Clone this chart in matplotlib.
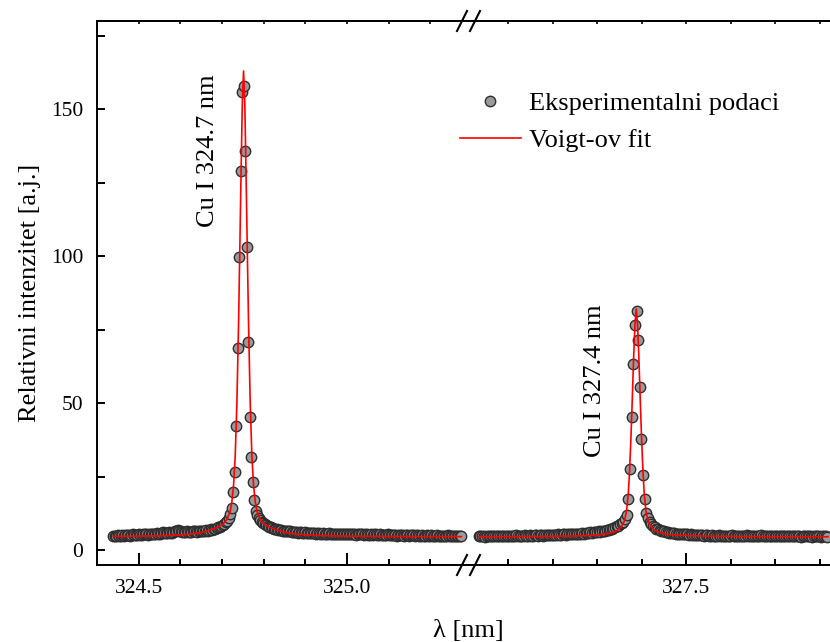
import numpy as np
import matplotlib.pyplot as plt
from matplotlib.ticker import MultipleLocator, FormatStrFormatter
from matplotlib.lines import Line2D

plt.rcParams['font.family'] = ['Liberation Serif', 'DejaVu Serif']

# --- podaci: lijevi segment (Cu I 324.7 nm) ---
left_start = 324.4394
left_step = 0.0036
left_counts = [
    4.8, 4.7, 4.9, 5.0, 4.8, 4.9, 5.1, 4.9, 5.0, 5.2, 5.0, 4.9, 5.1, 5.3, 5.1, 5.0, 5.2, 5.4, 5.2, 5.1,
    5.3, 5.5, 5.3, 5.2, 5.4, 5.6, 5.4, 5.3, 5.5, 5.7,
    5.6, 5.5, 5.8, 6.0, 5.8, 5.7, 5.9, 6.1, 5.9, 5.8, 6.0, 6.3, 6.5, 6.8, 6.6, 6.3, 6.1, 6.0, 6.2, 6.4,
    6.2, 6.0, 6.1, 6.3, 6.5, 6.3, 6.2, 6.4, 6.6, 6.4,
    6.3, 6.5, 6.7, 6.6, 6.8, 7.0, 6.9, 7.1, 7.3, 7.5, 7.7, 7.9, 8.2, 8.5, 8.9, 9.4, 10.0, 11.0, 12.3,
    14.2, 19.6, 26.4, 42.3, 68.7, 99.8, 129.0, 155.9, 157.8, 135.8, 103.0, 70.7, 45.1, 31.5, 23.0, 17.0, 13.3,
    11.8, 10.9, 10.2, 9.6, 9.1, 8.7, 8.4, 8.1, 7.9, 7.7, 7.5, 7.3, 7.2, 7.0, 6.9, 6.8, 6.7, 6.6, 6.5, 6.5,
    6.4, 6.3, 6.3, 6.2, 6.1, 6.2, 6.0, 5.9, 6.1, 6.0, 5.8, 5.9, 6.0, 5.8, 5.7,
    5.8, 5.7, 5.9, 5.8, 5.6, 5.7, 5.8, 5.6, 5.5, 5.7, 5.6, 5.5, 5.6, 5.7, 5.5, 5.4, 5.6, 5.5, 5.4, 5.5,
    5.6, 5.4, 5.3, 5.5, 5.4, 5.6, 5.5, 5.3, 5.4, 5.5, 5.3, 5.2, 5.4, 5.3, 5.5, 5.4, 5.2, 5.3, 5.4, 5.2,
    5.1, 5.3, 5.2, 5.4, 5.3, 5.1, 5.2, 5.3, 5.1, 5.0, 5.2, 5.1, 5.3, 5.2, 5.0, 5.1, 5.2, 5.0, 4.9, 5.1,
    5.0, 5.2, 5.1, 4.9, 5.0, 5.1, 4.9, 5.0, 5.2, 5.0, 4.9, 5.1, 5.0, 4.8, 4.9, 5.0, 4.8, 4.9, 5.1, 4.9,
    4.8, 5.0, 4.9, 4.7, 4.8, 5.0, 4.9, 4.7, 4.8, 4.9, 4.7, 4.8, 5.0, 4.8, 4.7, 4.9, 4.8, 4.6, 4.7, 4.9,
    4.8, 4.7,
]

# --- podaci: desni segment (Cu I 327.4 nm) ---
right_start = 327.0330
right_step = 0.0037
right_counts = [
    4.7, 4.6, 4.8, 4.7, 4.5, 4.6, 4.8, 4.7, 4.6, 4.8, 4.9, 4.7, 4.6, 4.8, 4.7, 4.9, 4.8, 4.6, 4.7, 4.9,
    4.8, 4.7, 4.9, 5.0, 4.8, 4.7, 4.9, 4.8, 5.0, 4.9, 4.8, 5.0, 4.9, 4.8, 5.0, 5.1, 4.9, 5.0, 5.1, 4.9,
    5.0, 5.2, 5.1, 5.0, 5.2, 5.1, 5.0, 5.2, 5.3, 5.1,
    5.2, 5.3, 5.4, 5.2, 5.3, 5.5, 5.4, 5.3, 5.5, 5.6, 5.5, 5.4, 5.6, 5.7, 5.6, 5.8, 5.7, 5.9, 6.0, 5.9,
    6.1, 6.0, 6.2, 6.3, 6.2, 6.4, 6.5, 6.6, 6.8, 6.9, 7.1, 7.3, 7.5, 7.8, 8.0, 8.3, 8.7, 9.1, 9.6,
    10.4, 12.0, 17.2, 27.5, 45.1, 63.2, 76.5, 81.3, 71.4, 55.3, 37.8, 25.5, 17.2, 12.7, 10.8,
    9.6, 8.8, 8.2, 7.7, 7.3, 7.0, 6.8, 6.6, 6.4, 6.3, 6.1, 6.0, 5.9, 5.8, 5.8, 5.7, 5.6, 5.5, 5.6, 5.5,
    5.4, 5.3, 5.4, 5.3, 5.2, 5.3, 5.1, 5.2, 5.1, 5.0, 5.2, 5.1, 5.0, 4.9, 5.1, 5.0, 4.9,
    4.8, 5.0, 4.9, 4.7, 4.8, 5.0, 4.9, 4.8, 4.6, 4.8, 4.9, 4.7, 4.8, 5.0, 4.8, 4.7, 4.9, 4.8, 4.6, 4.7,
    4.9, 4.8, 5.0, 4.9, 4.7, 4.8, 4.9, 4.7, 4.6, 4.8, 4.9, 5.1, 4.9, 4.8, 4.7, 4.9, 4.8, 4.6, 4.7, 4.8,
    4.9, 4.7, 4.6, 4.8, 4.7, 4.9, 4.8, 4.6, 4.7, 4.8, 4.6, 4.7, 4.9, 4.8, 4.6, 4.5, 4.7, 4.8, 4.6, 4.7,
    4.8, 4.6, 4.5, 4.7, 4.6, 4.8, 4.7, 4.5, 4.6, 4.7, 4.6, 4.5,
]

# --- Voigt fit (ocitano sa slike) ---
fit1_wl = [324.4394, 324.5018, 324.5518, 324.6018, 324.6318, 324.6518, 324.6718, 324.6868, 324.7018, 324.7118,
           324.7198, 324.7238, 324.7278, 324.7318, 324.7358, 324.7398, 324.7428, 324.7458, 324.7488, 324.7518,
           324.7548, 324.7578, 324.7608, 324.7638, 324.7678, 324.7718, 324.7758, 324.7798, 324.7838, 324.7918,
           324.8018, 324.8168, 324.8318, 324.8518, 324.8718, 324.9018, 324.9518, 325.0018, 325.0518, 325.1518,
           325.2746]
fit1_int = [4.65, 4.74, 4.87, 5.16, 5.55, 6.0, 6.8, 7.6, 8.7, 10.4,
            13.2, 16.5, 22.0, 32.0, 50.0, 77.0, 102.0, 128.0, 152.0, 163.0,
            152.0, 128.0, 102.0, 77.0, 50.0, 32.0, 22.0, 16.5, 13.2, 10.4,
            8.7, 7.6, 6.8, 6.0, 5.55, 5.16, 4.87, 4.74, 4.68, 4.6,
            4.55]
fit2_wl = [327.0330, 327.0876, 327.1876, 327.2376, 327.2876, 327.3076, 327.3226, 327.3376, 327.3476, 327.3546,
           327.3606, 327.3656, 327.3696, 327.3726, 327.3756, 327.3786, 327.3816, 327.3846, 327.3876, 327.3906,
           327.3936, 327.3966, 327.3996, 327.4026, 327.4056, 327.4096, 327.4146, 327.4206, 327.4276, 327.4376,
           327.4526, 327.4676, 327.4876, 327.5376, 327.5876, 327.6876, 327.8190]
fit2_int = [4.53, 4.55, 4.63, 4.75, 5.0, 5.2, 5.5, 6.1, 6.9, 8.0,
            9.8, 13.0, 19.0, 27.0, 38.0, 51.0, 65.0, 76.5, 82.0, 76.5,
            65.0, 51.0, 38.0, 27.0, 19.0, 13.0, 9.8, 8.0, 6.9, 6.1,
            5.5, 5.2, 5.0, 4.75, 4.63, 4.55, 4.52]

left_wl = left_start + left_step * np.arange(len(left_counts))
right_wl = right_start + right_step * np.arange(len(right_counts))

W, H = 830, 642
x0, xb, y0, y1 = 97, 468.5, 565, 21   # okvir u pikselima

fig = plt.figure(figsize=(W / 100, H / 100), dpi=100)
ax1 = fig.add_axes([x0 / W, 1 - y0 / H, (xb - x0) / W, (y0 - y1) / H])
ax2 = fig.add_axes([xb / W, 1 - y0 / H, 1 - xb / W, (y0 - y1) / H], sharey=ax1)

pts = dict(ls='none', marker='o', ms=7.5, mfc='#9a9a9a', mec='#2e2e2e', mew=1.0, zorder=2)
ax1.plot(left_wl, left_counts, **pts)
ax2.plot(right_wl, right_counts, **pts)
ax1.plot(fit1_wl, fit1_int, color='red', lw=1.2, zorder=3)
ax2.plot(fit2_wl, fit2_int, color='red', lw=1.2, zorder=3)

ax1.set_xlim(324.4, 325.2918)
ax2.set_xlim(327.0101, 327.8236)
ax1.set_ylim(-5.1, 180)

for ax in (ax1, ax2):
    for s in ax.spines.values():
        s.set_linewidth(1.4)
    ax.xaxis.set_major_locator(MultipleLocator(0.5))
    ax.xaxis.set_minor_locator(MultipleLocator(0.1))
    ax.xaxis.set_major_formatter(FormatStrFormatter('%.1f'))
    ax.tick_params(axis='x', which='major', direction='in', length=8.5, width=1.4, labelsize=15.5, pad=10)
    ax.tick_params(axis='x', which='minor', direction='in', length=4.3, width=1.4)
    sec = ax.secondary_xaxis('top')
    sec.xaxis.set_major_locator(MultipleLocator(0.1))
    sec.tick_params(direction='in', length=2.5, width=1.2, labeltop=False)
    sec.spines['top'].set_linewidth(1.4)

ax1.spines['right'].set_visible(False)
ax2.spines['left'].set_visible(False)
ax2.spines['right'].set_visible(False)

ax1.yaxis.set_major_locator(MultipleLocator(50))
ax1.yaxis.set_minor_locator(MultipleLocator(25))
ax1.tick_params(axis='y', which='both', direction='in', length=6, width=1.4, labelsize=15.5, pad=10)
ax2.tick_params(axis='y', which='both', left=False, labelleft=False)

ax1.set_ylabel('Relativni intenzitet [a.j.]', fontsize=19)
ax1.yaxis.set_label_coords((41 - x0) / (xb - x0), 0.5)
fig.text(xb / W, 1 - 631 / H, 'λ [nm]', ha='center', va='center', fontsize=19)

ax1.text(324.667, 136, 'Cu I 324.7 nm', rotation=90, ha='center', va='center', fontsize=19)
ax2.text(327.2955, 57.5, 'Cu I 327.4 nm', rotation=90, ha='center', va='center', fontsize=19)

# oznake prekida osi
for yb in (y0, y1):
    for xc in (462, 475):
        fig.add_artist(Line2D([(xc - 5) / W, (xc + 5) / W], [1 - (yb + 10) / H, 1 - (yb - 10) / H],
                              color='black', lw=1.5, transform=fig.transFigure))

handles = [Line2D([], [], **pts), Line2D([], [], color='red', lw=1.2)]
fig.legend(handles, ['Eksperimentalni podaci', 'Voigt-ov fit'], loc='upper left',
           bbox_to_anchor=(460 / W, 1 - 92 / H), frameon=False, fontsize=19,
           handlelength=2.3, handletextpad=0.3, labelspacing=0.5, borderpad=0, borderaxespad=0)

fig.savefig('out.png', dpi=100)
plt.close(fig)
